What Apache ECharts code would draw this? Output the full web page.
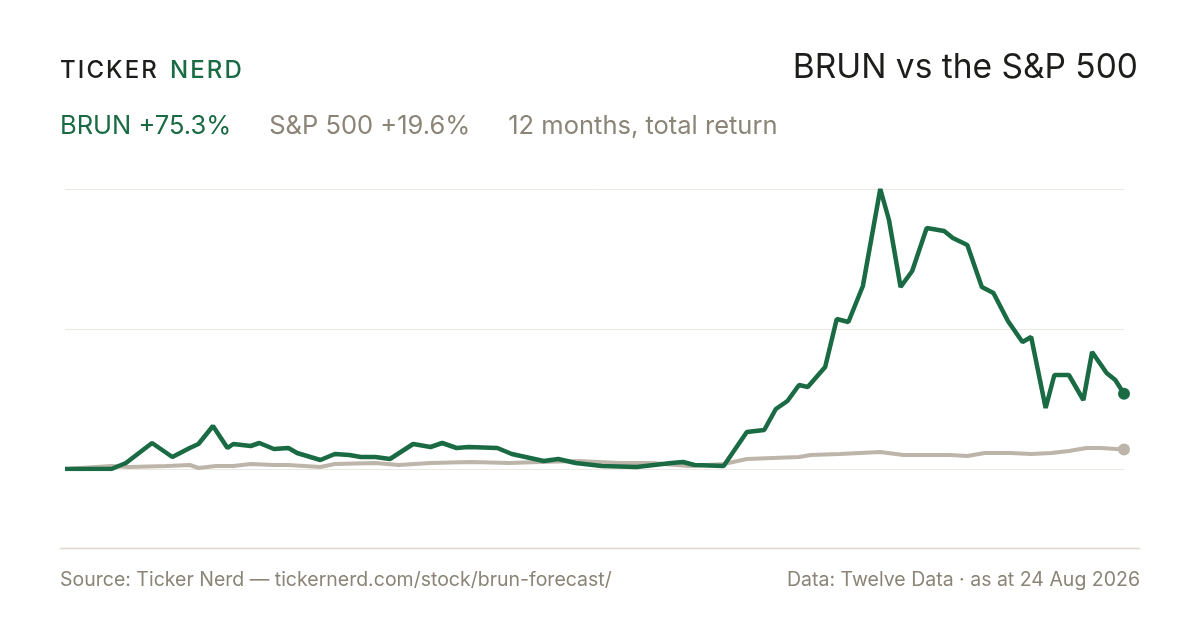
<!DOCTYPE html>
<html><head><meta charset="utf-8">
<script src="https://cdn.jsdelivr.net/npm/echarts@6/dist/echarts.min.js"></script>
<style>html,body{margin:0;padding:0;background:#fff}#c{width:1200px;height:630px}</style>
</head><body><div id="c"></div>
<script>
// days since start, total return %
var brunDays = [0,16,21,30,35,37,43,46,51,56,58,64,67,72,77,80,88,93,98,102,107,112,120,126,130,135,139,149,154,165,170,176,185,197,209,213,217,227,235,241,245,249,253,256,262,266,270,275,281,284,288,292,297,303,306,311,316,320,325,330,333,338,341,346,351,354,359,362,365];
var brunVals = [0,0,6,26,16,12,21,25,43,21,25,23,26,20,21,16,9,15,14,12,12,10,25,22,26,21,22,21,15,8,10,6,3,2,6,7,4,3,37,39,60,68,84,82,102,150,147,183,280,249,182,198,241,238,231,224,182,176,148,127,132,61,94,94,69,117,96,89,75.3];
var spxDays = [0,16,22,35,43,46,52,58,64,72,77,88,93,107,115,126,140,153,164,177,191,202,215,227,235,253,257,267,281,289,305,311,317,326,333,340,346,352,357,365];
var spxVals = [0,3,2,3,4,1,3,3,5,4,4,2,5,6,4,6,7,6,7,8,6,6,3,5,10,12,14,15,17,14,14,13,16,16,15,16,18,21,21,19.6];
var yTicks = [0,140,280];

function pairs(d,v){return d.map(function(x,i){return [x,v[i]];});}
function spaced(s){return s.split('').join('\u200A');}
var green='#1a6b44', grey='#bdb5a9', txt='#8a8577';
var chart = echarts.init(document.getElementById('c'));
chart.setOption({
  animation:false,
  grid:{left:65,right:76,top:189,bottom:161},
  xAxis:{type:'value',min:0,max:365,show:false},
  yAxis:{type:'value',min:yTicks[0],max:yTicks[2],interval:yTicks[1],
    axisLabel:{show:false},axisLine:{show:false},axisTick:{show:false},
    splitLine:{lineStyle:{color:'#ebe8e2',width:1}}},
  series:[
    {type:'line',data:pairs(spxDays,spxVals),showSymbol:false,lineStyle:{color:grey,width:4},z:2},
    {type:'line',data:pairs(brunDays,brunVals),showSymbol:false,lineStyle:{color:green,width:4.5},z:3},
    {type:'scatter',data:[[365,spxVals[spxVals.length-1]]],symbolSize:12,itemStyle:{color:grey,opacity:1},z:2},
    {type:'scatter',data:[[365,brunVals[brunVals.length-1]]],symbolSize:12,itemStyle:{color:green,opacity:1},z:4}
  ],
  graphic:[
    {type:'text',left:60,top:59,style:{text:spaced('TICKER'),font:'500 24px Inter, sans-serif',fill:'#1d1d1b'}},
    {type:'text',left:170,top:59,style:{text:spaced('NERD'),font:'500 24px Inter, sans-serif',fill:green}},
    {type:'text',right:62,top:51,style:{text:'BRUN vs the S&P 500',font:'33.5px Inter, sans-serif',fill:'#1d1d1b'}},
    {type:'text',left:60,top:113,style:{text:'{a|BRUN +75.3%}{b|S&P 500 +19.6%}{b|12 months, total return}',
      rich:{a:{font:'25.5px Inter, sans-serif',fill:green},b:{font:'25.5px Inter, sans-serif',fill:txt,padding:[0,0,0,38]}}}},
    {type:'line',shape:{x1:60,y1:548.5,x2:1140,y2:548.5},style:{stroke:'#dcd8cf',lineWidth:1.5}},
    {type:'text',left:60,top:570,style:{text:'Source: Ticker Nerd — tickernerd.com/stock/brun-forecast/',font:'19.5px Inter, sans-serif',fill:txt}},
    {type:'text',right:60,top:570,style:{text:'Data: Twelve Data · as at 24 Aug 2026',font:'19.5px Inter, sans-serif',fill:txt}}
  ]
});
</script></body></html>
